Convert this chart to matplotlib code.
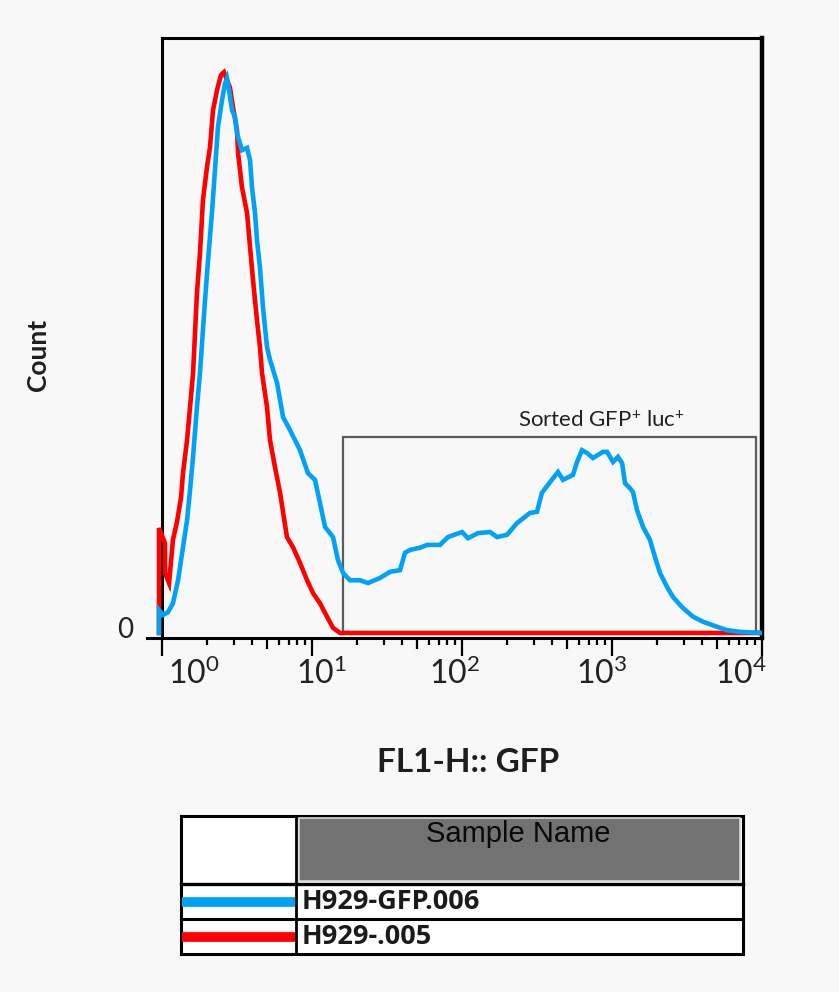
import numpy as np
import matplotlib
matplotlib.use('Agg')
import matplotlib.pyplot as plt
from matplotlib.patches import Rectangle
from matplotlib.transforms import ScaledTranslation
from matplotlib.ticker import FixedLocator, NullFormatter

# ---------------- data ----------------
samples = ['H929-GFP.006', 'H929-.005']
sample_colors = ['#00A2F5', '#FF0000']

# GFP sample (blue): log10(FL1-H) positions and counts (% of max)
gfp_log_fl1 = [-0.02, -0.02, 0.007, 0.04, 0.073, 0.107, 0.14, 0.167, 0.187, 0.207,
               0.233, 0.253, 0.287, 0.307, 0.333, 0.353, 0.373, 0.40, 0.42, 0.433,
               0.447, 0.467, 0.487, 0.50, 0.533, 0.567, 0.587, 0.60, 0.62, 0.633,
               0.653, 0.673, 0.70, 0.72, 0.767, 0.807, 0.853, 0.92, 0.973, 1.02,
               1.053, 1.087, 1.14, 1.173, 1.207, 1.253, 1.32, 1.373, 1.453, 1.52,
               1.587, 1.62, 1.653, 1.72, 1.767, 1.853, 1.907, 2.0, 2.04, 2.107,
               2.187, 2.233, 2.30, 2.367, 2.453, 2.50, 2.533, 2.587, 2.64, 2.673,
               2.74, 2.767, 2.80, 2.833, 2.873, 2.94, 2.967, 3.007, 3.04, 3.067,
               3.087, 3.12, 3.14, 3.167, 3.207, 3.253, 3.287, 3.32, 3.367, 3.407,
               3.467, 3.54, 3.607, 3.70, 3.767, 3.853, 3.987]
gfp_count = [0, 4.1, 3.2, 3.7, 5.3, 9.4, 15.3, 20.1, 25.5, 31.4,
             40.3, 46.3, 59.4, 66.5, 74.9, 82.5, 90.2, 95.0, 98.0, 98.9,
             96.8, 93.2, 92.0, 89.1, 86.1, 86.5, 84.3, 79.5, 74.9, 70.1,
             65.2, 58.1, 51.0, 48.7, 44.6, 38.5, 36.2, 32.6, 28.5, 27.3,
             23.2, 18.9, 17.1, 13.0, 10.7, 9.4, 9.4, 8.9, 9.8, 10.9,
             11.2, 14.3, 14.8, 15.2, 15.7, 15.7, 17.1, 18.0, 16.9, 17.8,
             18.0, 17.1, 17.5, 19.6, 21.4, 21.6, 25.0, 26.9, 28.7, 27.3,
             28.2, 30.5, 32.6, 32.1, 31.2, 32.3, 32.3, 30.5, 31.4, 30.3,
             26.7, 25.8, 25.1, 21.9, 18.9, 16.6, 13.5, 10.7, 8.2, 6.4,
             4.6, 2.9, 2.0, 1.1, 0.5, 0.2, 0]

# Negative control (red)
neg_log_fl1 = [-0.02, -0.02, 0.02, 0.02, 0.047, 0.073, 0.10, 0.127, 0.14, 0.167,
               0.187, 0.207, 0.233, 0.253, 0.273, 0.30, 0.32, 0.34, 0.367, 0.393,
               0.413, 0.433, 0.453, 0.473, 0.50, 0.507, 0.533, 0.567, 0.587, 0.607,
               0.633, 0.653, 0.667, 0.70, 0.72, 0.753, 0.787, 0.833, 0.873, 0.92,
               0.967, 1.007, 1.053, 1.10, 1.14, 1.187, 4.0]
neg_count = [0, 18.7, 16.0, 10.7, 8.9, 16.6, 19.8, 24.2, 28.5, 34.4,
             40.3, 46.3, 60.6, 67.7, 77.2, 83.1, 86.6, 93.2, 96.8, 99.5,
             100, 98.6, 97.3, 93.8, 89.7, 85.6, 79.5, 74.9, 68.8, 62.9,
             55.8, 51.0, 46.3, 40.3, 34.4, 29.6, 25.0, 17.1, 15.3, 12.5,
             9.4, 7.1, 5.3, 2.9, 0.9, 0, 0]

gate_fl1 = [16.1, 9100.0]
gate_count_top = 34.9
gate_label = 'Sorted GFP$^{+}$ luc$^{+}$'
gate_label_fl1 = 850.0

decade_exps = [0, 1, 2, 3, 4]
tick_labels = [r'$10^{%d}$' % e for e in decade_exps]
x_title = 'FL1-H:: GFP'
y_title = 'Count'
table_header = 'Sample Name'

# ---------------- style ----------------
plt.rcParams['font.family'] = ['Lato', 'DejaVu Sans']
plt.rcParams['mathtext.fontset'] = 'custom'
plt.rcParams['mathtext.rm'] = 'Lato'
plt.rcParams['mathtext.it'] = 'Lato:italic'
plt.rcParams['mathtext.bf'] = 'Lato:bold'

W, H = 839, 992
bg = '#f8f8f8'
fig = plt.figure(figsize=(W / 100, H / 100), dpi=100, facecolor=bg)

ax = fig.add_axes([147 / W, 1 - 638 / H, 615 / W, 600 / H])
ax.set_facecolor('none')
ax.set_xscale('log')
ax.set_xlim(10 ** -0.1, 10 ** 4)
ax.set_ylim(-0.9, 106.1)

ax.plot(10 ** np.array(neg_log_fl1), neg_count, color=sample_colors[1], lw=3.3,
        solid_joinstyle='miter', zorder=3)
ax.plot(10 ** np.array(gfp_log_fl1), gfp_count, color=sample_colors[0], lw=3.3,
        solid_joinstyle='miter', zorder=4)

# gate
ax.add_patch(Rectangle((gate_fl1[0], 0), gate_fl1[1] - gate_fl1[0], gate_count_top,
                       fill=False, edgecolor='#5c5c5c', lw=1.6, zorder=2))
ax.annotate(gate_label, (gate_label_fl1, gate_count_top), xytext=(0, 12),
            textcoords='offset points', ha='center', va='center',
            fontsize=16, color='#222222')

# spines
for s in ['left', 'top', 'right', 'bottom']:
    ax.spines[s].set_color('black')
ax.spines['left'].set_position(('data', 1.0))
ax.spines['left'].set_linewidth(2.2)
ax.spines['top'].set_bounds(1.0, 1e4)
ax.spines['top'].set_linewidth(2.2)
ax.spines['right'].set_linewidth(3.2)
ax.spines['bottom'].set_linewidth(2.2)

# x ticks
ax.xaxis.set_major_locator(FixedLocator([10.0 ** e for e in decade_exps]))
ax.set_xticklabels(tick_labels)
minor = [m * 10.0 ** e for e in decade_exps[:-1] for m in [2, 3, 4, 6, 7, 8, 9]]
ax.xaxis.set_minor_locator(FixedLocator(minor))
ax.xaxis.set_minor_formatter(NullFormatter())
ax.tick_params(axis='x', which='major', direction='out', length=13, width=1.6,
               labelsize=23, pad=1, colors='black', labelcolor='#222222')
ax.tick_params(axis='x', which='minor', direction='out', length=5, width=1.6,
               colors='black')
sec = ax.secondary_xaxis('bottom')
sec.set_xticks([5 * 10.0 ** e for e in decade_exps[:-1]])
sec.xaxis.set_minor_locator(FixedLocator([]))
sec.set_xticklabels([])
sec.tick_params(axis='x', length=8, width=1.6, direction='out')
for s in sec.spines.values():
    s.set_visible(False)

offsets_in = [0.32, 0.09, -0.07, -0.10, -0.21]
for lab, off in zip(ax.get_xticklabels(), offsets_in):
    lab.set_transform(lab.get_transform() + ScaledTranslation(off, 0, fig.dpi_scale_trans))

# y ticks
ax.set_yticks([0])
ax.set_yticklabels(['0'])
ax.tick_params(axis='y', length=0, pad=21, labelsize=20, labelcolor='#222222')
for lab in ax.get_yticklabels():
    lab.set_transform(lab.get_transform() + ScaledTranslation(0, 0.05, fig.dpi_scale_trans))

# axis titles
fig.text(468 / W, 1 - 762 / H, x_title, ha='center', va='center', fontsize=24,
         fontweight='bold', color='#1e1e1e')
fig.text(38 / W, 1 - 355 / H, y_title, ha='center', va='center', fontsize=19,
         fontweight='bold', rotation=90, color='#1e1e1e')

# ---------------- legend table ----------------
tab = fig.add_axes([0, 0, 1, 1], facecolor='none')
tab.set_xlim(0, W)
tab.set_ylim(H, 0)
tab.axis('off')

L, R, T, B = 181, 743, 816, 954
cx = 296
tab.add_patch(Rectangle((L, T), R - L, B - T, facecolor='white', edgecolor='black', lw=2.2))
tab.add_patch(Rectangle((299, 818), 441, 63, facecolor='#727272', edgecolor='#d8d8d8', lw=1.2))
tab.plot([cx, cx], [T, B], color='black', lw=2.0)
tab.plot([L, R], [884, 884], color='black', lw=2.4)
tab.plot([L, R], [919, 919], color='black', lw=2.2)
tab.text(518, 834, table_header, ha='center', va='center', fontsize=21,
         family=['Liberation Sans', 'DejaVu Sans'], color='#0a0a0a')
row_y = [902, 937]
for name, col, yy in zip(samples, sample_colors, row_y):
    tab.plot([L + 1, cx - 1], [yy, yy], color=col, lw=7.0, solid_capstyle='butt')
    tab.text(302, yy, name, ha='left', va='center', fontsize=19.5,
             family=['Open Sans', 'DejaVu Sans'], fontweight='bold', color='#1a1a1a')

fig.savefig('out.png', dpi=100, facecolor=bg)
